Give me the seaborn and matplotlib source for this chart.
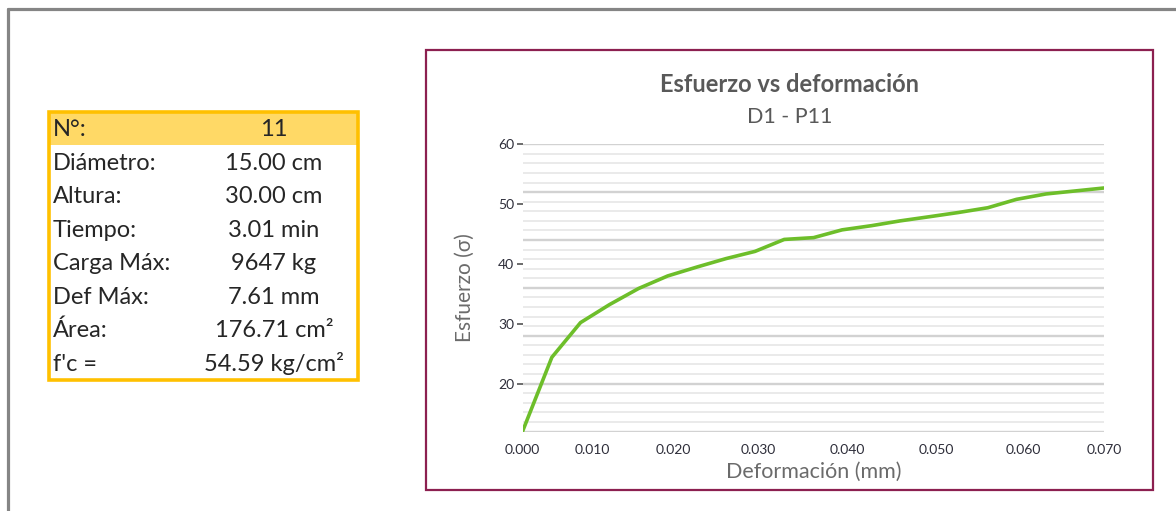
import numpy as np
import matplotlib
matplotlib.use("Agg")
import matplotlib.pyplot as plt
from matplotlib.patches import Rectangle
from matplotlib.lines import Line2D
import seaborn as sns

# Specimen summary
field_names = ["N°:", "Diámetro:", "Altura:", "Tiempo:", "Carga Máx:", "Def Máx:", "Área:", "f'c ="]
field_values = ["11", "15.00 cm", "30.00 cm", "3.01 min", "9647 kg", "7.61 mm", "176.71 cm²", "54.59 kg/cm²"]

# Stress-strain readings
deformacion = [0.0000, 0.0042, 0.0083, 0.0121, 0.0157, 0.0193, 0.0228, 0.0262, 0.0296, 0.0329,
               0.0362, 0.0394, 0.0427, 0.0459, 0.0492, 0.0525, 0.0559, 0.0592, 0.0628, 0.0664, 0.0700]
esfuerzo = [12.0, 24.4, 30.2, 33.2, 35.9, 38.0, 39.5, 40.9, 42.1, 44.1,
            44.4, 45.7, 46.4, 47.2, 47.9, 48.6, 49.4, 50.8, 51.7, 52.2, 52.7]

# Axis labelling
x_tick_values = [0.000, 0.010, 0.020, 0.030, 0.040, 0.050, 0.060, 0.070]
x_tick_places = [0.0, 0.1202, 0.2595, 0.4057, 0.5587, 0.7123, 0.8614, 1.0]
y_tick_values = [20, 30, 40, 50, 60]
grid_major = [12, 20, 28, 36, 44, 52, 60]
y_min, y_max = 12, 60

sns.set_theme(style="white")
plt.rcParams["font.family"] = ["Lato", "DejaVu Sans"]

W, H = 1176, 511
fig = plt.figure(figsize=(W / 100, H / 100), dpi=100)
fig.patch.set_facecolor("white")


def fx(px):
    return px / W


def fy(py):
    return 1 - py / H


# Page frame (left and top edges)
fig.add_artist(Line2D([fx(8), fx(8)], [fy(9), 0], color="#858585", lw=2.3))
fig.add_artist(Line2D([fx(8), 1], [fy(9), fy(9)], color="#858585", lw=2.3))

# Chart frame
fig.add_artist(Rectangle((fx(426.5), fy(489.5)), (1153 - 426.5) / W, (489.5 - 49.5) / H,
                         fill=False, edgecolor="#8C2050", lw=1.6))

# Summary table
tx0, tx1, ty0, row_h = 48.5, 357.5, 111.5, 33.5
n_rows = len(field_names)
fig.add_artist(Rectangle((fx(tx0), fy(ty0 + row_h)), (tx1 - tx0) / W, row_h / H,
                         facecolor="#FFD966", edgecolor="none", lw=0))
fig.add_artist(Rectangle((fx(tx0), fy(ty0 + row_h * n_rows)), (tx1 - tx0) / W, row_h * n_rows / H,
                         fill=False, edgecolor="#FFC000", lw=2.6))
for i, (name, val) in enumerate(zip(field_names, field_values)):
    base = ty0 + row_h * i + row_h / 2 + 8
    fig.text(fx(53), fy(base), name, ha="left", va="baseline", fontsize=17, color="#262626")
    fig.text(fx(274), fy(base), val, ha="center", va="baseline", fontsize=17, color="#262626")

# Stress-strain chart
ax = fig.add_axes([fx(522.5), fy(431.5), (1104 - 522.5) / W, (431.5 - 144.3) / H])
ax.set_facecolor("white")


def _fwd(v):
    return np.interp(v, x_tick_values, x_tick_places)


def _inv(p):
    return np.interp(p, x_tick_places, x_tick_values)


ax.set_xscale("function", functions=(_fwd, _inv))
ax.set_xlim(x_tick_values[0], x_tick_values[-1])
ax.set_ylim(y_min, y_max)

# Horizontal grid: light minor lines and darker major lines
minor_levels = [v for v in np.arange(y_min, y_max + 0.01, 1.6)]
ax.hlines(minor_levels, 0, 1, transform=ax.get_yaxis_transform(), colors="#EAEAEA", lw=1.4, zorder=0)
ax.hlines(grid_major, 0, 1, transform=ax.get_yaxis_transform(), colors="#D2D2D2", lw=1.7, zorder=0)

sns.lineplot(x=deformacion, y=esfuerzo, ax=ax, color="#6DBE2A", linewidth=2.6, zorder=3)

for s in ax.spines.values():
    s.set_visible(False)

ax.set_xticks(x_tick_values)
ax.set_xticklabels([f"{v:.3f}" for v in x_tick_values])
ax.set_yticks(y_tick_values)
ax.set_yticklabels([str(v) for v in y_tick_values])
ax.tick_params(axis="x", length=0, pad=9, labelsize=10, labelcolor="#2E2E3A")
ax.tick_params(axis="y", length=4, width=1.1, color="#444444", pad=2, labelsize=10,
               labelcolor="#2E2E3A", left=True)
ax.minorticks_off()

ax.set_xlabel("Deformación (mm)", fontsize=15.5, color="#6B6B6B", labelpad=4)
ax.set_ylabel("Esfuerzo (σ)", fontsize=15, color="#6B6B6B", labelpad=17,
              family=["Lato", "DejaVu Sans"])

fig.text(fx(790), fy(85), "Esfuerzo vs deformación", ha="center", va="center",
         fontsize=17, fontweight="bold", color="#595959")
fig.text(fx(790), fy(117), "D1 - P11", ha="center", va="center", fontsize=15.5, color="#595959")

fig.savefig("out.png", dpi=100, facecolor="white")
